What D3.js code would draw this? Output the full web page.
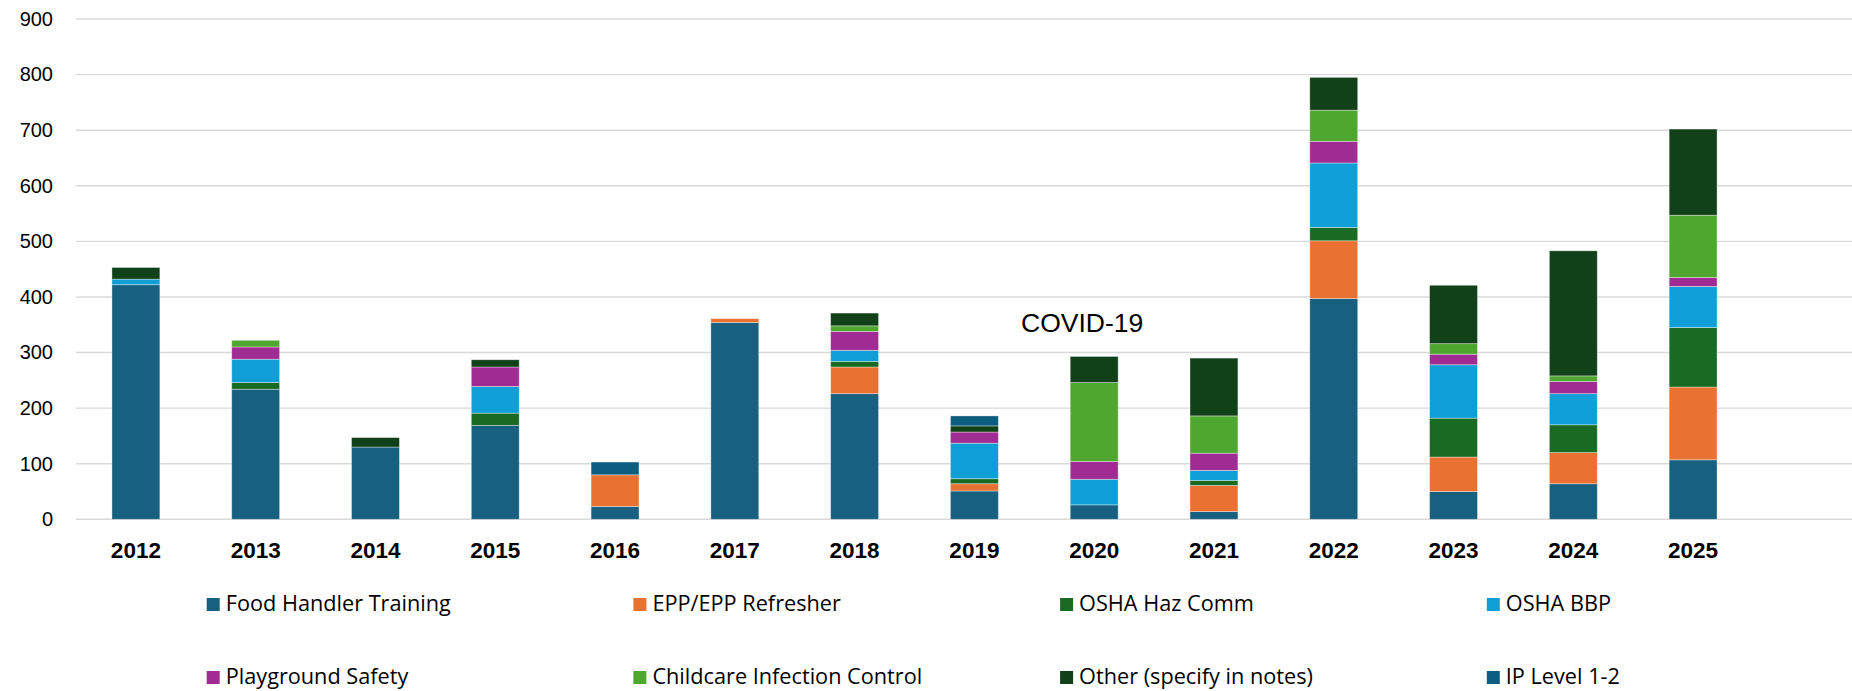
<!DOCTYPE html>
<html>
<head>
<meta charset="utf-8">
<script src="https://cdn.jsdelivr.net/npm/d3@7"></script>
<style>
    body { margin: 0; background: #fff; }
    svg { display: block; }
    .axis-y text { font-family: "Liberation Sans", Arial, sans-serif; font-size: 20px; fill: #000; }
    .axis-x text { font-family: "Liberation Sans", Arial, sans-serif; font-size: 22.5px; font-weight: bold; fill: #000; }
    .legend text { font-family: "Open Sans", sans-serif; font-size: 21.7px; fill: #000; }
    .note { font-family: "Liberation Sans", Arial, sans-serif; font-size: 26.5px; fill: #000; }
</style>
</head>
<body>
<div class="content"></div>
<script>
// годы (категории)
var years = ['2012', '2013', '2014', '2015', '2016', '2017', '2018', '2019', '2020', '2021', '2022', '2023', '2024', '2025'];

// названия рядов, снизу вверх
var seriesNames = ['Food Handler Training', 'EPP/EPP Refresher', 'OSHA Haz Comm', 'OSHA BBP',
    'Playground Safety', 'Childcare Infection Control', 'Other (specify in notes)', 'IP Level 1-2'];

// значения по годам для каждого ряда
var foodHandler = [422, 234, 130, 169, 23, 354, 226, 51, 26, 14, 397, 50, 64, 107];
var eppRefresher = [0, 0, 0, 0, 57, 7, 48, 13, 0, 47, 104, 62, 56, 131];
var oshaHazComm = [0, 12, 0, 22, 0, 0, 10, 9, 0, 9, 24, 70, 50, 107];
var oshaBBP = [10, 42, 0, 48, 0, 0, 20, 64, 46, 18, 116, 96, 56, 74];
var playground = [0, 22, 0, 35, 0, 0, 34, 20, 32, 31, 39, 19, 22, 16];
var childcare = [0, 12, 0, 0, 0, 0, 10, 0, 142, 67, 56, 19, 10, 112];
var other = [21, 0, 17, 13, 0, 0, 23, 11, 47, 104, 59, 105, 225, 155];
var ipLevel = [0, 0, 0, 0, 23, 0, 0, 18, 0, 0, 0, 0, 0, 0];

// подписи оси Y
var yTicks = [0, 100, 200, 300, 400, 500, 600, 700, 800, 900];

// цвета рядов
var colors = ['#17607f', '#e97132', '#196b24', '#0f9ed5', '#a02b93', '#4ea72e', '#114118', '#0b5e80'];

var w = 1852,
    h = 691;

var svg = d3.select('.content').append('svg')
    .attr('width', w)
    .attr('height', h);

// собираем таблицу для стека
var seriesValues = [foodHandler, eppRefresher, oshaHazComm, oshaBBP, playground, childcare, other, ipLevel];
var table = years.map(function(y, i) {
    var row = { year: y };
    seriesNames.forEach(function(name, k) { row[name] = seriesValues[k][i]; });
    return row;
});
var stacked = d3.stack().keys(seriesNames)(table);

// шкалы
var x = d3.scaleBand()
    .domain(years)
    .range([76, 1753])
    .paddingInner(0.6)
    .paddingOuter(0.3);

var y = d3.scaleLinear()
    .domain([0, 900])
    .range([519.3, 19]);

// сетка
svg.append('g')
    .selectAll('line')
    .data(yTicks)
    .enter()
    .append('line')
    .attr('x1', 76)
    .attr('x2', w)
    .attr('y1', function(d) { return y(d); })
    .attr('y2', function(d) { return y(d); })
    .style('stroke', '#d9d9d9')
    .style('stroke-width', 1.4);

// ось Y
var yAxis = svg.append('g')
    .attr('class', 'axis-y')
    .attr('transform', 'translate(53,0)')
    .call(d3.axisLeft(y).tickValues(yTicks).tickSize(0).tickPadding(0));
yAxis.select('.domain').remove();

// столбцы
svg.append('g')
    .selectAll('g')
    .data(stacked)
    .enter()
    .append('g')
    .style('fill', function(d, i) { return colors[i]; })
    .selectAll('rect')
    .data(function(d) { return d.filter(function(s) { return s[1] - s[0] > 0; }); })
    .enter()
    .append('rect')
    .attr('x', function(d) { return x(d.data.year); })
    .attr('width', x.bandwidth())
    .attr('y', function(d) { return y(d[1]); })
    .attr('height', function(d) { return y(d[0]) - y(d[1]); })
    .style('stroke', 'rgba(255,255,255,0.45)')
    .style('stroke-width', 0.8);

// ось X
var xAxis = svg.append('g')
    .attr('class', 'axis-x')
    .attr('transform', 'translate(0,' + 519.3 + ')')
    .call(d3.axisBottom(x).tickSize(0).tickPadding(23));
xAxis.select('.domain').remove();

// подпись COVID-19
svg.append('text')
    .attr('class', 'note')
    .attr('x', 1021)
    .attr('y', 332)
    .text('COVID-19');

// легенда: 4 колонки, 2 строки
var legend = svg.append('g')
    .attr('class', 'legend')
    .selectAll('g')
    .data(seriesNames)
    .enter()
    .append('g')
    .attr('transform', function(d, i) {
        return 'translate(' + (206.7 + (i % 4) * 426.7) + ',' + (i < 4 ? 611 : 684) + ')';
    });

legend.append('rect')
    .attr('y', -13)
    .attr('width', 13)
    .attr('height', 13)
    .style('fill', function(d, i) { return colors[i]; });

legend.append('text')
    .attr('x', 19)
    .text(function(d) { return d; });
</script>
</body>
</html>
